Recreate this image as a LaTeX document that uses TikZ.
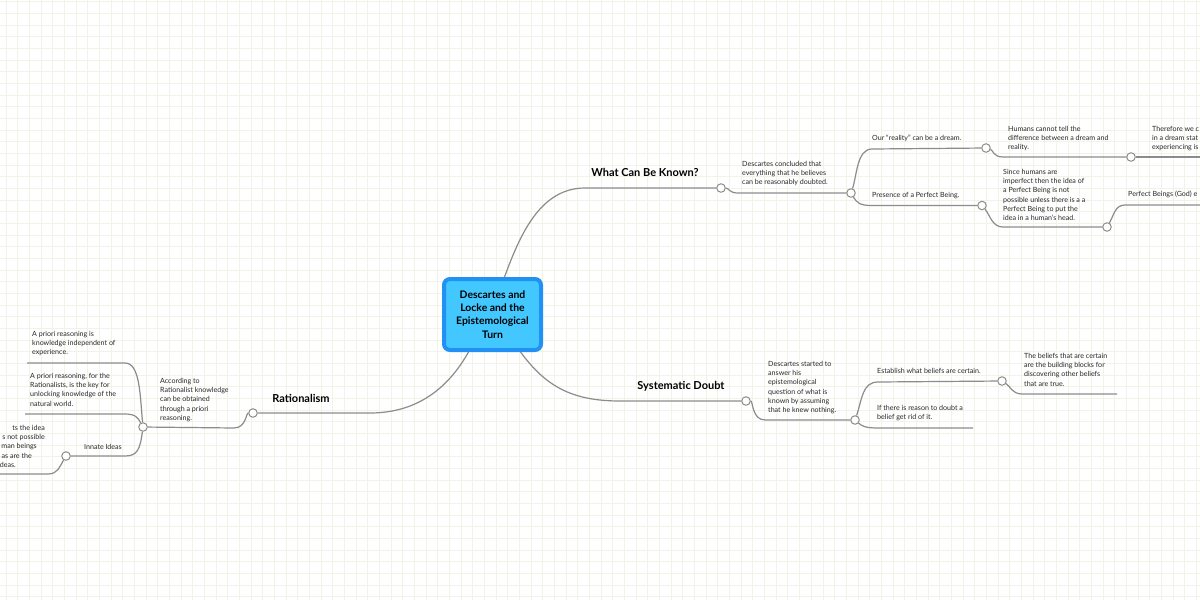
\documentclass[tikz,border=0pt]{standalone}
\usepackage{fontspec}
\setmainfont{Lato}
\usetikzlibrary{calc}
\definecolor{gridc}{RGB}{242,242,230}
\definecolor{linec}{RGB}{140,140,140}
\definecolor{rootfill}{RGB}{66,199,255}
\definecolor{rootdraw}{RGB}{33,146,243}
\definecolor{txtc}{RGB}{40,40,40}
\tikzset{
  conn/.style={draw=linec, line width=1.2pt},
  knob/.style={circle, draw=linec, fill=white, line width=1pt, minimum size=8.5pt, inner sep=0pt},
  txt/.style={inner sep=0pt, anchor=north west, align=left, text=txtc, font=\fontsize{7.1}{9.2}\selectfont},
  txtr/.style={txt, anchor=north east, align=right},
  ttl/.style={inner sep=0pt, text=black, font=\bfseries\fontsize{11}{12}\selectfont},
  rootbox/.style={rectangle, rounded corners=6pt, draw=rootdraw, fill=rootfill, line width=4pt,
    minimum width=97pt, minimum height=71pt, inner sep=0pt, align=center,
    font=\bfseries\fontsize{10.4}{13.3}\selectfont}
}
\begin{document}
\begin{tikzpicture}[x=1pt, y={(0pt,-1pt)}]
\useasboundingbox (0,0) rectangle (1200,600);
\clip (0,0) rectangle (1200,600);
\fill[white] (0,0) rectangle (1200,600);
% grid
\foreach \i in {0,...,103} \draw[gridc, line width=0.8pt] (6+11.67*\i,0) -- (6+11.67*\i,600);
\foreach \j in {0,...,52} \draw[gridc, line width=0.8pt] (0,1.7+11.67*\j) -- (1200,1.7+11.67*\j);

% root
\node[rootbox] (root) at (492.5,314.5) {Descartes and\\Locke and the\\Epistemological\\Turn};

% knobs
\node[knob] (kW) at (721,188) {};
\node[knob] (kD1) at (851,193) {};
\node[knob] (kR) at (986,148) {};
\node[knob] (kP) at (982,205.5) {};
\node[knob] (kH) at (1131,157) {};
\node[knob] (kS) at (1107,227) {};
\node[knob] (kSD) at (746,401) {};
\node[knob] (kDS) at (855,420) {};
\node[knob] (kE) at (1002,381) {};
\node[knob] (kRa) at (253,413) {};
\node[knob] (kA) at (143,427) {};
\node[knob] (kI) at (66,456) {};

% free ends
\coordinate (eH) at (1205,157);
\coordinate (ePB) at (1205,205);
\coordinate (eIf) at (973,428);
\coordinate (eBel) at (1117,394);
\coordinate (e1) at (27,363);
\coordinate (e2) at (25,414);
\coordinate (e3) at (-5,474);

% connectors
\draw[conn] ([xshift=12pt]root.north) .. controls (520,235) and (540,188) .. (585,188) -- (kW);
\draw[conn] (kW) .. controls (729,188) and (729,193) .. (738,193) -- (kD1);
\draw[conn] (kD1) .. controls (857,175) and (857,149) .. (872,149) -- (kR);
\draw[conn] (kD1) .. controls (857,203) and (860,205.5) .. (872,205.5) -- (kP);
\draw[conn] (kR) .. controls (993,150) and (993,157) .. (1003,157) -- (kH);
\draw[conn] (kH) -- (eH);
\draw[conn] (kP) .. controls (990,215) and (992,227) .. (1003,227) -- (kS);
\draw[conn] (kS) .. controls (1114,215) and (1115,205) .. (1125,205) -- (ePB);
\draw[conn] ([xshift=28pt]root.south) .. controls (545,385) and (570,401) .. (620,401) -- (kSD);
\draw[conn] (kSD) .. controls (753,401) and (752,420) .. (765,420) -- (kDS);
\draw[conn] (kDS) .. controls (862,400) and (862,382) .. (878,382) -- (kE);
\draw[conn] (kDS) .. controls (862,426) and (865,428) .. (878,428) -- (eIf);
\draw[conn] (kE) .. controls (1010,386) and (1012,394) .. (1022,394) -- (eBel);
\draw[conn] ([xshift=-24pt]root.south) .. controls (450,385) and (420,413) .. (370,413) -- (kRa);
\draw[conn] (kRa) .. controls (246,413) and (246,428) .. (234,428) -- (kA);
\draw[conn] (kA) .. controls (140,395) and (140,363) .. (125,363) -- (e1);
\draw[conn] (kA) .. controls (138,418) and (136,414) .. (125,414) -- (e2);
\draw[conn] (kA) .. controls (140,450) and (137,456) .. (125,456) -- (kI);
\draw[conn] (kI) .. controls (60,466) and (58,474) .. (48,474) -- (e3);

% titles
\node[ttl] (tW) at (645,172) {What Can Be Known?};
\node[ttl] (tSD) at (681,386) {Systematic Doubt};
\node[ttl] (tRa) at (301,398) {Rationalism};

% texts
\node[txt] (xD1) at (742,161) {Descartes concluded that\\everything that he believes\\can be reasonably doubted.};
\node[txt] (xR) at (872,135) {Our “reality” can be a dream.};
\node[txt] (xP) at (872,192) {Presence of a Perfect Being.};
\node[txt] (xH) at (1008,126) {Humans cannot tell the\\difference between a dream and\\reality.};
\node[txt] (xT) at (1152,126) {Therefore we c\\in a dream stat\\experiencing is};
\node[txt] (xS) at (1003,169) {Since humans are\\imperfect then the idea of\\a Perfect Being is not\\possible unless there is a a\\Perfect Being to put the\\idea in a human's head.};
\node[txt] (xPB) at (1128,191) {Perfect Beings (God) e};
\node[txt] (xDS) at (768,361) {Descartes started to\\answer his\\epistemological\\question of what is\\known by assuming\\that he knew nothing.};
\node[txt] (xE) at (877,368) {Establish what beliefs are certain.};
\node[txt] (xIf) at (877,405) {If there is reason to doubt a\\belief get rid of it.};
\node[txt] (xBel) at (1024,353) {The beliefs that are certain\\are the building blocks for\\discovering other beliefs\\that are true.};
\node[txt] (xA) at (160,378) {According to\\Rationalist knowledge\\can be obtained\\through a priori\\reasoning.};
\node[txt] (x1) at (32,331) {A priori reasoning is\\knowledge independent of\\experience.};
\node[txt] (x2) at (30,373) {A priori reasoning, for the\\Rationalists, is the key for\\unlocking knowledge of the\\natural world.};
\node[txtr] (xI) at (122,444) {Innate Ideas};
\node[txtr] (f1) at (45,425) {ts the idea};
\node[txtr] (f2) at (45,434.2) {s not possible};
\node[txtr] (f3) at (37,443.4) {man beings};
\node[txtr] (f4) at (32,452.6) {as are the};
\node[txtr] (f5) at (16,461.8) {deas.};
\end{tikzpicture}
\end{document}
